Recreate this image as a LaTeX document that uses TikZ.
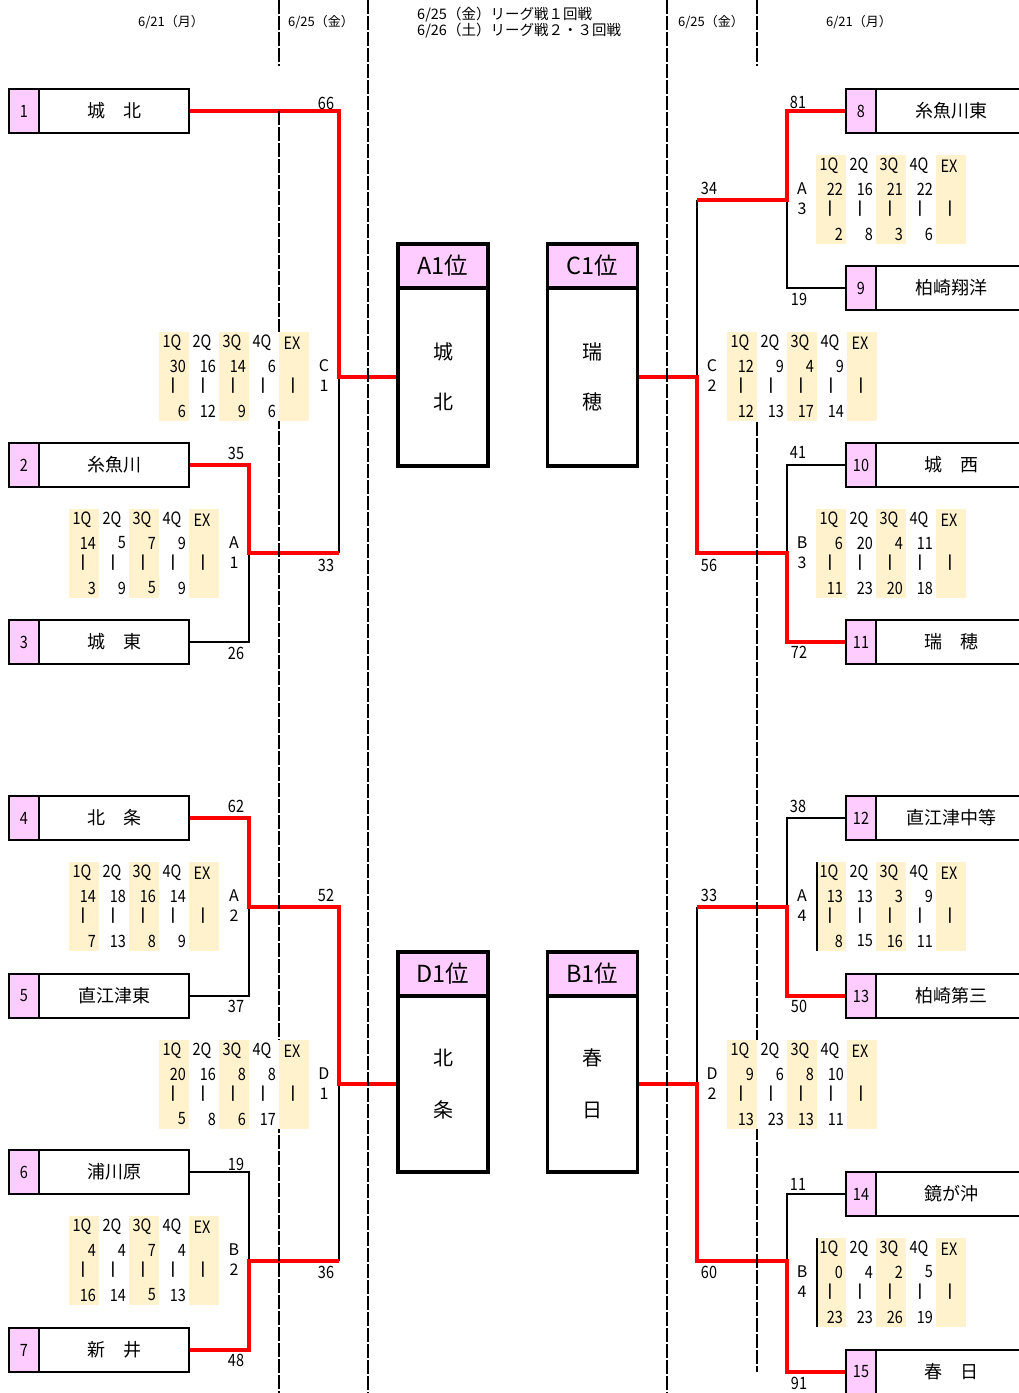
\documentclass[tikz,border=0pt]{standalone}
\usepackage{fontspec}
\setmainfont{Noto Sans CJK JP}
\newfontfamily\numf[FakeStretch=0.85]{Noto Sans CJK JP}
\definecolor{pinkc}{RGB}{255,204,255}
\definecolor{qcol}{RGB}{255,242,204}
\definecolor{redc}{RGB}{255,0,0}
\tikzset{
  numcell/.style={draw, line width=2.6pt, fill=pinkc, minimum width=30pt, minimum height=44pt, inner sep=0pt, font=\numf\fontsize{17}{17}\selectfont},
  namecell/.style={draw, line width=2.6pt, fill=white, minimum width=150pt, minimum height=44pt, inner sep=0pt, font=\fontsize{18}{18}\selectfont},
  hdrcell/.style={draw, line width=3.2pt, fill=pinkc, minimum width=90pt, minimum height=44pt, inner sep=0pt, font=\fontsize{23.5}{23.5}\selectfont},
  bodycell/.style={draw, line width=3.2pt, fill=white, minimum width=90pt, inner sep=0pt},
  bodytxt/.style={inner sep=0pt, font=\fontsize{20}{20}\selectfont},
  winline/.style={draw=redc, line width=4pt, line join=miter},
  loseline/.style={draw=black, line width=2.2pt, line join=miter},
  daydash/.style={draw=black, line width=2.2pt, dash pattern=on 13.5pt off 2.5pt},
  scorelab/.style={inner sep=0pt, font=\numf\fontsize{17}{17}\selectfont},
  tabhd/.style={inner sep=0pt, font=\numf\fontsize{17}{17}\selectfont},
  tabsc/.style={inner sep=0pt, font=\numf\fontsize{17}{17}\selectfont},
  tabbar/.style={inner sep=0pt, font=\bfseries\fontsize{13.5}{13.5}\selectfont},
  grplab/.style={inner sep=0pt, font=\fontsize{16}{16}\selectfont},
  sidetxt/.style={inner sep=0pt, font=\fontsize{13}{13}\selectfont},
  midtxt/.style={inner sep=0pt, anchor=west, font=\fontsize{14.5}{14.5}\selectfont}
}
\newcommand\MyScoreTab[4]{%
  \fill[white] (#2,#3) rectangle ++(150,89);
  \foreach \cc in {0,2,4} {\fill[qcol] ({#2+30*\cc},#3) rectangle ++(30,89);}
  \foreach \hd [count=\ii from 0] in {1Q,2Q,3Q,4Q,EX} {%
    \node[tabhd] (#1h\ii) at ({#2+30*\ii+13},{#3+11}) {\hd};
    \node[tabbar] (#1v\ii) at ({#2+30*\ii+14},{#3+54}) {|};}
  \foreach \topv/\botv [count=\ii from 0] in {#4} {%
    \node[tabsc, anchor=east] (#1t\ii) at ({#2+30*\ii+27},{#3+34}) {\topv};
    \node[tabsc, anchor=east] (#1b\ii) at ({#2+30*\ii+27},{#3+79}) {\botv};}
}
\newcommand\MyGrp[5]{%
  \node[grplab] (#1L) at (#2,{#3+34}) {#4};
  \node[grplab] (#1D) at (#2,{#3+54}) {#5};
}
\newcommand\MyTeamL[3]{%
  \node[numcell] (m#1) at (24,#2) {#1};
  \node[namecell] (n#1) at (114,#2) {#3};
}
\newcommand\MyTeamR[3]{%
  \node[numcell] (m#1) at (861,#2) {#1};
  \node[namecell] (n#1) at (951,#2) {#3};
}
\begin{document}
\begin{tikzpicture}[x=1pt,y=-1pt]
\useasboundingbox (0,0) rectangle (1019,1393);
\fill[white] (0,0) rectangle (1019,1393);

% teams
\MyTeamL{1}{111}{城　北}
\MyTeamL{2}{465}{糸魚川}
\MyTeamL{3}{642}{城　東}
\MyTeamL{4}{818}{北　条}
\MyTeamL{5}{996}{直江津東}
\MyTeamL{6}{1172}{浦川原}
\MyTeamL{7}{1350}{新　井}
\MyTeamR{8}{111}{糸魚川東}
\MyTeamR{9}{288}{柏崎翔洋}
\MyTeamR{10}{465}{城　西}
\MyTeamR{11}{642}{瑞　穂}
\MyTeamR{12}{818}{直江津中等}
\MyTeamR{13}{996}{柏崎第三}
\MyTeamR{14}{1194}{鏡が沖}
\MyTeamR{15}{1372}{春　日}

% center boxes
\node[hdrcell] (hA) at (443,266) {A1位};
\node[bodycell, minimum height=178pt] (bA) at (443,377) {};
\node[hdrcell] (hC) at (592.5,266) {C1位};
\node[bodycell, minimum height=178pt] (bC) at (592.5,377) {};
\node[hdrcell] (hD) at (443,974) {D1位};
\node[bodycell, minimum height=176pt] (bD) at (443,1084) {};
\node[hdrcell] (hB) at (592.5,974) {B1位};
\node[bodycell, minimum height=176pt] (bB) at (592.5,1084) {};

% junction coordinates
\coordinate (jA1) at (249,553);
\coordinate (jC1) at (339,377);
\coordinate (jC1b) at (339,553);
\coordinate (jA2) at (249,907);
\coordinate (jD1a) at (339,907);
\coordinate (jD1) at (339,1084);
\coordinate (jB2) at (249,1261);
\coordinate (jD1b) at (339,1261);
\coordinate (jA3) at (787,200);
\coordinate (jC2a) at (697,200);
\coordinate (jC2) at (697,377);
\coordinate (jB3) at (787,553);
\coordinate (jC2b) at (697,553);
\coordinate (jA4) at (787,907);
\coordinate (jD2a) at (697,907);
\coordinate (jD2) at (697,1084);
\coordinate (jB4) at (787,1261);
\coordinate (jD2b) at (697,1261);

% losing connectors
\draw[loseline] (jC1) -- (jC1b);
\draw[loseline] (n3.east) -| (jA1);
\draw[loseline] (n5.east) -| (jA2);
\draw[loseline] (n6.east) -| (jB2);
\draw[loseline] (jD1b) -- (jD1);
\draw[loseline] (jC2a) -- (jC2);
\draw[loseline] (m9.west) -| (jA3);
\draw[loseline] (m10.west) -| (jB3);
\draw[loseline] (m12.west) -| (jA4);
\draw[loseline] (jD2a) -- (jD2);
\draw[loseline] (m14.west) -| (jB4);

% winning connectors
\draw[winline] (n1.east) -| (jC1) -- (bA.west);
\draw[winline] (n2.east) -| (jA1) -- (jC1b);
\draw[winline] (n4.east) -| (jA2) -- (jD1a) -- (jD1) -- (bD.west);
\draw[winline] (n7.east) -| (jB2) -- (jD1b);
\draw[winline] (m8.west) -| (jA3) -- (jC2a);
\draw[winline] (bC.east) -- (jC2) -- (jC2b) -- (jB3) |- (m11.west);
\draw[winline] (m13.west) -| (jA4) -- (jD2a);
\draw[winline] (bB.east) -- (jD2) -- (jD2b) -- (jB4) |- (m15.west);

% day separators
\draw[daydash] (279,0) -- (279,66);
\draw[daydash] (279,111) -- (279,1393);
\draw[daydash] (368,0) -- (368,1393);
\draw[daydash] (667,0) -- (667,1393);
\draw[daydash] (757,0) -- (757,66);
\draw[daydash] (757,422) -- (757,1372);

% score tables
\MyScoreTab{C1}{159}{332}{30/6,16/12,14/9,6/6}
\MyScoreTab{A1}{69}{509}{14/3,5/9,7/5,9/9}
\MyScoreTab{A2}{69}{862}{14/7,18/13,16/8,14/9}
\MyScoreTab{D1}{159}{1040}{20/5,16/8,8/6,8/17}
\MyScoreTab{B2}{69}{1216}{4/16,4/14,7/5,4/13}
\MyScoreTab{A3}{816}{155}{22/2,16/8,21/3,22/6}
\MyScoreTab{C2}{727}{332}{12/12,9/13,4/17,9/14}
\MyScoreTab{B3}{816}{509}{6/11,20/23,4/20,11/18}
\MyScoreTab{A4}{816}{862}{13/8,13/15,3/16,9/11}
\MyScoreTab{D2}{727}{1040}{9/13,6/23,8/13,10/11}
\MyScoreTab{B4}{816}{1238}{0/23,4/23,2/26,5/19}
\draw[line width=1.6pt] (817,862) -- (817,951);
\draw[line width=1.6pt] (817,1238) -- (817,1327);

% group labels
\MyGrp{gC1}{324}{332}{C}{1}
\MyGrp{gA1}{234}{509}{A}{1}
\MyGrp{gA2}{234}{862}{A}{2}
\MyGrp{gD1}{324}{1040}{D}{1}
\MyGrp{gB2}{234}{1216}{B}{2}
\MyGrp{gA3}{802}{155}{A}{3}
\MyGrp{gC2}{712}{332}{C}{2}
\MyGrp{gB3}{802}{509}{B}{3}
\MyGrp{gA4}{802}{862}{A}{4}
\MyGrp{gD2}{712}{1040}{D}{2}
\MyGrp{gB4}{802}{1238}{B}{4}

% names inside center boxes
\node[bodytxt] (bA1) at (443,352) {城};
\node[bodytxt] (bA2) at (443,402) {北};
\node[bodytxt] (bC1) at (592.5,352) {瑞};
\node[bodytxt] (bC2) at (592.5,402) {穂};
\node[bodytxt] (bD1) at (443,1058) {北};
\node[bodytxt] (bD2) at (443,1110) {条};
\node[bodytxt] (bB1) at (592.5,1058) {春};
\node[bodytxt] (bB2) at (592.5,1110) {日};

% scores
\node[scorelab] (s1) at (326,103) {66};
\node[scorelab] (s2) at (236,453) {35};
\node[scorelab] (s3) at (326,565) {33};
\node[scorelab] (s4) at (236,653) {26};
\node[scorelab] (s5) at (236,806) {62};
\node[scorelab] (s6) at (326,895) {52};
\node[scorelab] (s7) at (236,1006) {37};
\node[scorelab] (s8) at (236,1164) {19};
\node[scorelab] (s9) at (326,1272) {36};
\node[scorelab] (s10) at (236,1360) {48};
\node[scorelab] (s11) at (798,102) {81};
\node[scorelab] (s12) at (709,188) {34};
\node[scorelab] (s13) at (799,299) {19};
\node[scorelab] (s14) at (798,452) {41};
\node[scorelab] (s15) at (709,565) {56};
\node[scorelab] (s16) at (799,652) {72};
\node[scorelab] (s17) at (798,806) {38};
\node[scorelab] (s18) at (709,895) {33};
\node[scorelab] (s19) at (799,1006) {50};
\node[scorelab] (s20) at (798,1184) {11};
\node[scorelab] (s21) at (709,1272) {60};
\node[scorelab] (s22) at (799,1383) {91};

% headers
\node[sidetxt] (d1) at (171,22) {6/21（月）};
\node[sidetxt] (d2) at (321,22) {6/25（金）};
\node[midtxt] (d3) at (417,15) {6/25（金）リーグ戦１回戦};
\node[midtxt] (d4) at (417,31) {6/26（土）リーグ戦２・３回戦};
\node[sidetxt] (d5) at (711,22) {6/25（金）};
\node[sidetxt] (d6) at (859,22) {6/21（月）};
\end{tikzpicture}
\end{document}
